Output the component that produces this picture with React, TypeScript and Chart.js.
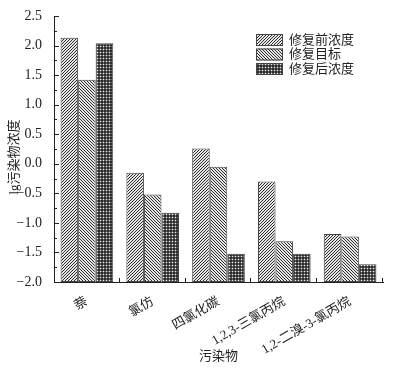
import React, { useEffect, useRef } from 'react';
import { Chart, registerables } from 'chart.js';
Chart.register(...registerables);

const categories = ['萘', '氯仿', '四氯化碳', '1,2,3-三氯丙烷', '1,2-二溴-3-氯丙烷'];
const seriesNames = ['修复前浓度', '修复目标', '修复后浓度'];
const beforeValues = [2.13, -0.15, 0.26, -0.3, -1.19];
const targetValues = [1.42, -0.52, -0.05, -1.31, -1.23];
const afterValues = [2.04, -0.83, -1.52, -1.52, -1.7];
const yMin = -2.0;
const yMax = 2.5;
const yStep = 0.5;
const yTitle = 'lg污染物浓度';
const xTitle = '污染物';

const FONT = '"Liberation Serif", "Times New Roman", "Noto Sans CJK SC", serif';
const INK = '#222';

function makePattern(kind: string): CanvasPattern | string {
  const s = 3;
  const c = document.createElement('canvas');
  c.width = s;
  c.height = s;
  const g = c.getContext('2d');
  if (!g) return '#888';
  const img = g.createImageData(s, s);
  const dots = [
    [45, 95, 45],
    [95, 235, 95],
    [45, 95, 45],
  ];
  for (let y = 0; y < s; y++) {
    for (let x = 0; x < s; x++) {
      let v = 235;
      if (kind === 'fwd') v = (x + y) % 3 === 0 ? 45 : 230;
      else if (kind === 'back') v = (((x - y) % 3) + 3) % 3 === 0 ? 45 : 230;
      else v = dots[y][x];
      const i = (y * s + x) * 4;
      img.data[i] = v;
      img.data[i + 1] = v;
      img.data[i + 2] = v;
      img.data[i + 3] = 255;
    }
  }
  g.putImageData(img, 0, 0);
  const p = g.createPattern(c, 'repeat');
  return p || '#888';
}

const inwardTicks = {
  id: 'inwardTicks',
  afterDraw(chart: any) {
    const ctx = chart.ctx;
    const y = chart.scales.y;
    const area = chart.chartArea;
    ctx.save();
    ctx.strokeStyle = INK;
    ctx.lineWidth = 1;
    ctx.beginPath();
    for (let v = yMin; v <= yMax + 1e-9; v += yStep / 2) {
      const py = Math.round(y.getPixelForValue(v)) + 0.5;
      const major = Math.abs(v / yStep - Math.round(v / yStep)) < 1e-6;
      ctx.moveTo(area.left, py);
      ctx.lineTo(area.left + (major ? 5 : 3), py);
    }
    const n = categories.length;
    const w = (area.right - area.left) / n;
    for (let k = 1; k <= n; k++) {
      const px = Math.round(area.left + k * w) - 0.5;
      ctx.moveTo(px, area.bottom);
      ctx.lineTo(px, area.bottom - 4);
    }
    ctx.stroke();
    ctx.fillStyle = INK;
    ctx.font = '13px ' + FONT;
    ctx.textAlign = 'center';
    ctx.textBaseline = 'middle';
    ctx.translate(15, 157);
    ctx.rotate(-Math.PI / 2);
    ctx.fillText(yTitle, 0, 0);
    ctx.restore();
  },
};

const boxLegend = {
  id: 'boxLegend',
  afterDraw(chart: any) {
    const ctx = chart.ctx;
    ctx.save();
    const x0 = 256;
    const y0 = 34;
    const pitch = 14.5;
    chart.data.datasets.forEach((ds: any, i: number) => {
      const top = y0 + i * pitch;
      ctx.fillStyle = ds.backgroundColor;
      ctx.fillRect(x0, top, 27, 12);
      ctx.strokeStyle = '#444';
      ctx.lineWidth = 1;
      ctx.strokeRect(x0 + 0.5, top + 0.5, 26, 11);
      ctx.fillStyle = INK;
      ctx.font = '13px ' + FONT;
      ctx.textBaseline = 'middle';
      ctx.textAlign = 'left';
      ctx.fillText(ds.label, 289, top + 6.5);
    });
    ctx.restore();
  },
};

export default function App() {
  const ref = useRef<HTMLCanvasElement | null>(null);
  useEffect(() => {
    if (!ref.current) return;
    const pats = [makePattern('fwd'), makePattern('back'), makePattern('dots')];
    const values = [beforeValues, targetValues, afterValues];
    const chart = new Chart(ref.current, {
      type: 'bar',
      data: {
        labels: categories,
        datasets: seriesNames.map((name, i) => ({
          label: name,
          data: values[i],
          base: yMin,
          backgroundColor: pats[i] as any,
          borderColor: '#444',
          borderWidth: 1,
          borderSkipped: false,
          categoryPercentage: 0.8,
          barPercentage: 1.0,
        })),
      },
      options: {
        responsive: false,
        animation: false,
        layout: { padding: { top: 16, right: 10, left: 0, bottom: 0 } },
        plugins: { legend: { display: false }, tooltip: { enabled: false } },
        scales: {
          x: {
            grid: { display: false },
            border: { display: true, color: INK, width: 1 },
            ticks: {
              color: INK,
              font: { family: FONT, size: 13 },
              maxRotation: 30,
              minRotation: 30,
              autoSkip: false,
              padding: 4,
            },
            title: {
              display: true,
              text: xTitle,
              color: INK,
              font: { family: FONT, size: 13 },
              padding: { top: 0, bottom: 6 },
            },
            afterFit: (s: any) => {
              s.height = 88;
              s.paddingLeft = 0;
              s.paddingRight = 0;
            },
          },
          y: {
            min: yMin,
            max: yMax,
            grid: { display: false },
            border: { display: true, color: INK, width: 1 },
            ticks: {
              stepSize: yStep,
              color: INK,
              font: { family: FONT, size: 14 },
              padding: 4,
              callback: (v: any) => Number(v).toFixed(1).replace('-', '\u2212'),
            },
            afterFit: (s: any) => {
              s.width = 54;
            },
          },
        },
      },
      plugins: [inwardTicks, boxLegend],
    });
    return () => chart.destroy();
  }, []);
  return (
    <div style={{ position: 'fixed', left: 0, top: 0, width: 393, height: 370, background: '#fff' }}>
      <canvas ref={ref} width={393} height={370} />
    </div>
  );
}
